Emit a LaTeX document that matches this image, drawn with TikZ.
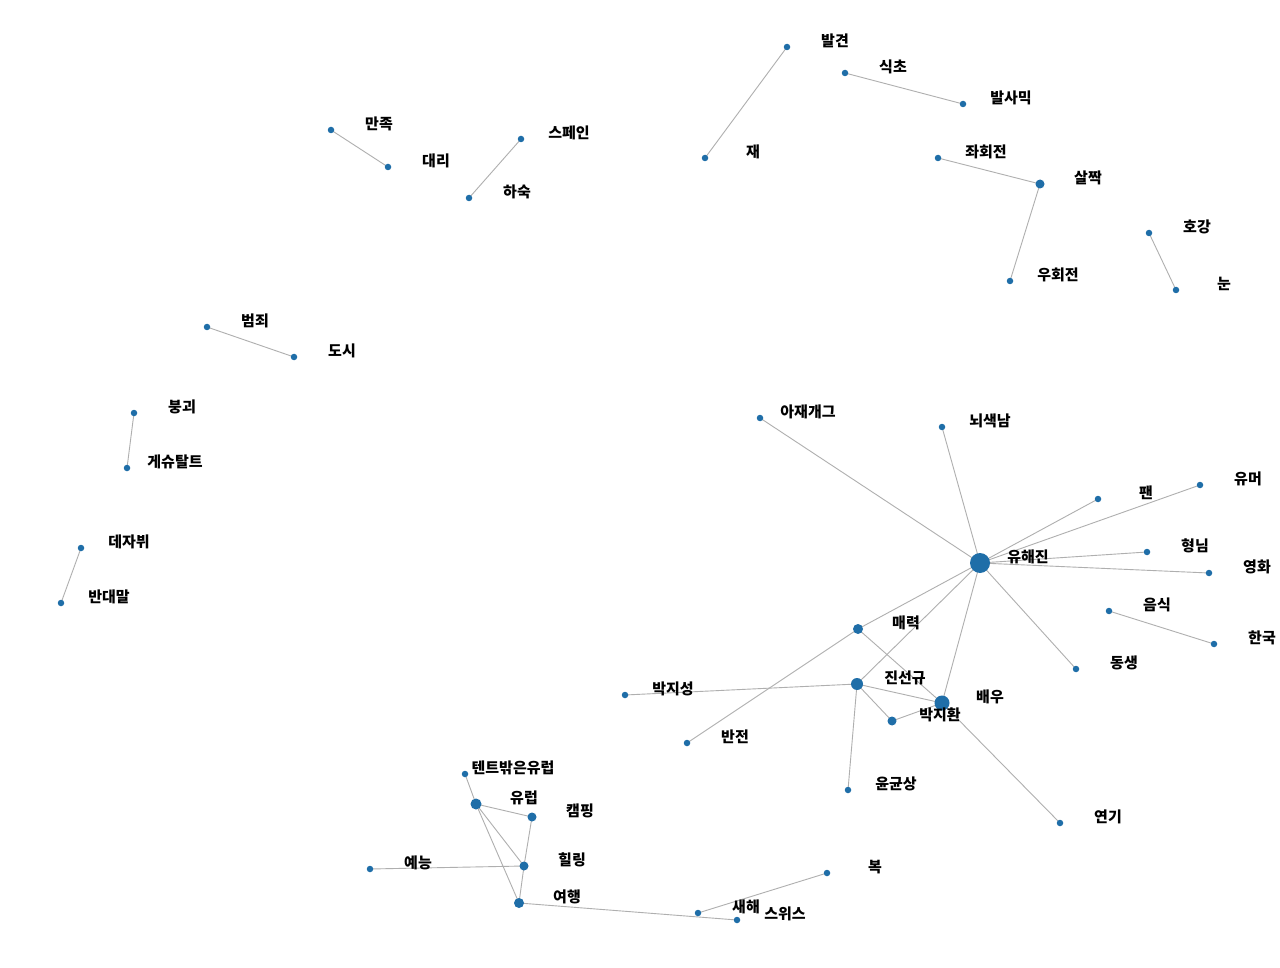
\documentclass[tikz,border=0pt]{standalone}
\usepackage{fontspec}
\newfontfamily\kr{Noto Sans CJK KR}
\definecolor{nodeblue}{RGB}{31,110,168}
\definecolor{edgegray}{RGB}{175,175,175}
\begin{document}
\begin{tikzpicture}[x=1pt,y=-1pt,
  dot/.style={circle,fill=nodeblue,inner sep=0pt,minimum size=6.5pt},
  lab/.style={inner sep=0pt,anchor=center,font=\kr\bfseries\fontsize{15}{17}\selectfont},
  edge/.style={draw=edgegray,line width=0.9pt}]
\fill[white] (0,0) rectangle (1280,968);
\useasboundingbox (0,0) rectangle (1280,968);
% node positions (named)
\foreach \id/\x/\y in {
 balgyeon/787/47, jae/705/158, sikcho/845/73, balsamic/963/104,
 jwa/938/158, saljjak/1040/184, woo/1010/281, hogang/1149/233, nun/1176/290,
 manjok/331/130, daeri/388/167, spain/521/139, hasuk/469/198,
 beomjoe/207/327, dosi/294/357, bunggoe/134/413, gestalt/127/468,
 dejavu/81/548, bandae/61/603,
 yhj/980/563, ajae/760/418, noe/942/427, fan/1098/499, humor/1200/485,
 hyung/1147/552, movie/1209/573, dongsaeng/1076/669,
 maeryeok/858/629, jsg/857/684, baewoo/942/703, pjh/892/721,
 pjs/625/695, banjeon/687/743, ygs/848/790, yeongi/1060/823,
 eumsik/1109/611, hanguk/1214/644,
 tent/465/774, europe/476/804, camping/532/817, healing/524/866,
 yeneung/370/869, travel/519/903, saehae/698/913, swiss/737/920, bok/827/873}
 {\coordinate (\id) at (\x,\y);}
% edges
\foreach \a/\b in {balgyeon/jae, sikcho/balsamic, jwa/saljjak, saljjak/woo,
 hogang/nun, manjok/daeri, spain/hasuk, beomjoe/dosi, bunggoe/gestalt,
 dejavu/bandae,
 yhj/ajae, yhj/noe, yhj/fan, yhj/humor, yhj/hyung, yhj/movie, yhj/dongsaeng,
 yhj/maeryeok, yhj/jsg, yhj/baewoo,
 maeryeok/banjeon, maeryeok/baewoo,
 jsg/pjs, jsg/baewoo, jsg/pjh, jsg/ygs, pjh/baewoo, baewoo/yeongi,
 eumsik/hanguk,
 tent/europe, europe/camping, europe/healing, europe/travel, camping/healing,
 healing/yeneung, healing/travel, travel/swiss, saehae/bok}
 {\draw[edge] (\a) -- (\b);}
% node dots
\foreach \id/\s in {
 balgyeon/6.5, jae/6.5, sikcho/6.5, balsamic/6.5,
 jwa/6.5, saljjak/9, woo/6.5, hogang/6.5, nun/6.5,
 manjok/6.5, daeri/6.5, spain/6.5, hasuk/6.5,
 beomjoe/6.5, dosi/6.5, bunggoe/6.5, gestalt/6.5,
 dejavu/6.5, bandae/6.5,
 yhj/20, ajae/6.5, noe/6.5, fan/6.5, humor/6.5, hyung/6.5, movie/6.5, dongsaeng/6.5,
 maeryeok/10, jsg/12, baewoo/15, pjh/9, pjs/6.5, banjeon/6.5, ygs/6.5, yeongi/6.5,
 eumsik/6.5, hanguk/6.5,
 tent/6.5, europe/11, camping/9, healing/9, yeneung/6.5, travel/10,
 saehae/6.5, swiss/6.5, bok/6.5}
 {\node[dot,minimum size=\s pt] (\id-d) at (\id) {};}
% labels
\foreach \id/\t in {
 balgyeon/발견, jae/재, sikcho/식초, balsamic/발사믹,
 jwa/좌회전, saljjak/살짝, woo/우회전, hogang/호강, nun/눈,
 manjok/만족, daeri/대리, spain/스페인, hasuk/하숙,
 beomjoe/범죄, dosi/도시, bunggoe/붕괴, gestalt/게슈탈트,
 dejavu/데자뷔, bandae/반대말,
 yhj/유해진, ajae/아재개그, noe/뇌색남, fan/팬, humor/유머, hyung/형님,
 movie/영화, dongsaeng/동생, maeryeok/매력, jsg/진선규, baewoo/배우,
 pjh/박지환, pjs/박지성, banjeon/반전, ygs/윤균상, yeongi/연기,
 eumsik/음식, hanguk/한국,
 tent/텐트밖은유럽, europe/유럽, camping/캠핑, healing/힐링, yeneung/예능,
 travel/여행, saehae/새해, swiss/스위스, bok/복}
 {\node[lab] (\id-l) at ([shift={(48,-6)}]\id) {\t};}
\end{tikzpicture}
\end{document}
